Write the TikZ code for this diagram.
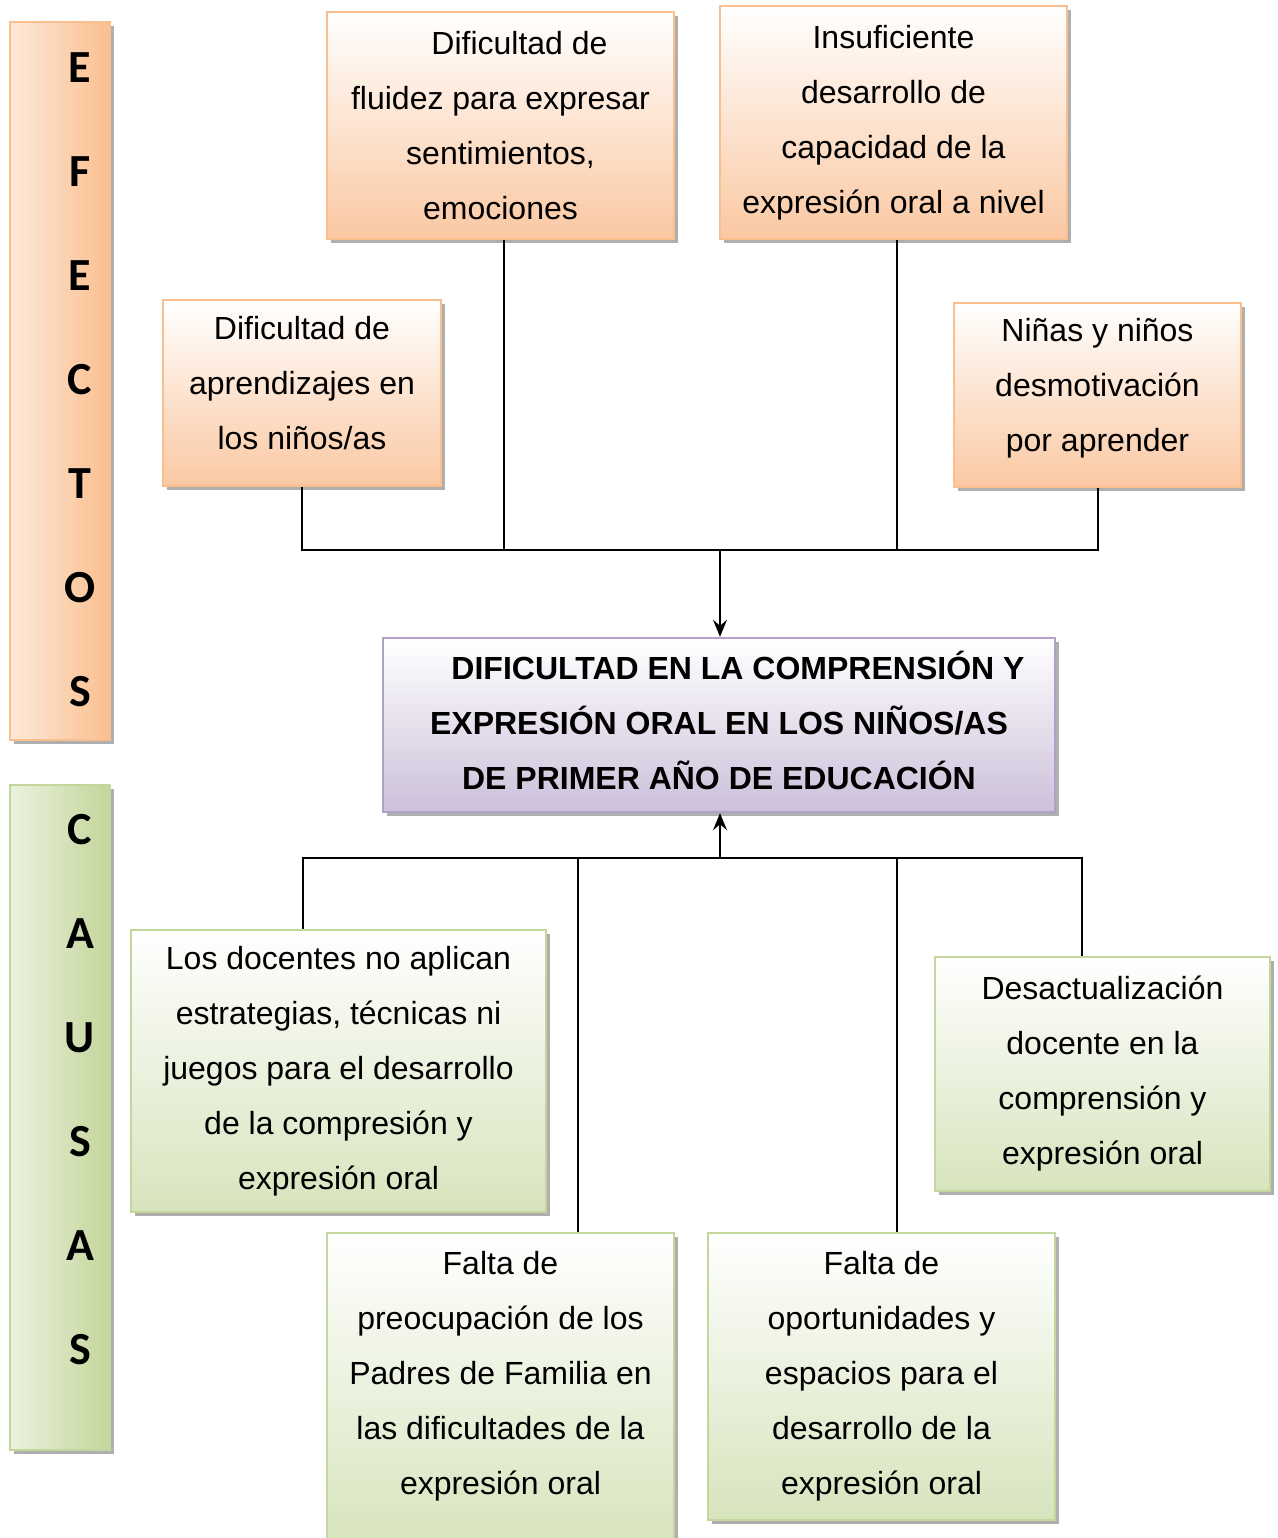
\documentclass[tikz,border=0pt]{standalone}
\usepackage{fontspec}
\setmainfont{Liberation Sans}
\newfontfamily\sidefont{Carlito}
\usetikzlibrary{arrows.meta,shadows,calc}
\definecolor{efline}{HTML}{FABF8F}
\definecolor{eflight}{HTML}{FDE9D9}
\definecolor{efbottom}{HTML}{FAC8A2}
\definecolor{caline}{HTML}{C3D69B}
\definecolor{calight}{HTML}{EBF1DE}
\definecolor{cabottom}{HTML}{D7E4BD}
\definecolor{prline}{HTML}{B2A1C7}
\definecolor{prbottom}{HTML}{CCC0DA}

\begin{document}
\begin{tikzpicture}[x=0.5pt,y=-0.5pt,
  boxtext/.style={rectangle,align=center,inner sep=0pt,line width=1.2pt,font=\fontsize{16}{27.5}\selectfont,
    drop shadow={shadow xshift=2pt,shadow yshift=-2pt,fill=black!35,opacity=0.9}},
  efbox/.style={boxtext,draw=efline,top color=white,bottom color=efbottom},
  cabox/.style={boxtext,draw=caline,top color=white,bottom color=cabottom},
  probbox/.style={boxtext,draw=prline,top color=white,bottom color=prbottom,font=\fontsize{16}{27.5}\selectfont\bfseries},
  sidebox/.style={rectangle,inner sep=0pt,line width=1.2pt,minimum width=50pt,
    drop shadow={shadow xshift=2pt,shadow yshift=-2pt,fill=black!35,opacity=0.9}},
  sideletter/.style={font=\sidefont\bfseries\fontsize{23}{23}\selectfont,inner sep=0pt},
  link/.style={line width=1pt},
  arrowlink/.style={link,-{Stealth[length=8.5pt,width=7pt,inset=3pt]}}]
\useasboundingbox (0,0) rectangle (1278,1538);

% side columns
\node[sidebox,draw=efline,left color=eflight,right color=efline,minimum height=359pt] (efectos) at (60,381) {};
\node[sidebox,draw=caline,left color=calight,right color=caline,minimum height=332.5pt] (causas) at (60,1117.5) {};
\foreach \l [count=\i from 0] in {E,F,E,C,T,O,S}
  \node[sideletter] (ef\i) at (80,{68+104*\i}) {\l};
\foreach \l [count=\i from 0] in {C,A,U,S,A,S}
  \node[sideletter] (ca\i) at (80,{830+104*\i}) {\l};

% efectos
\node[efbox,minimum width=139pt,minimum height=93pt,text depth=10pt] (e1) at (302,393)
  {Dificultad de\\aprendizajes en\\los niños/as};
\node[efbox,minimum width=173.5pt,minimum height=113.5pt] (e2) at (500.5,125.5)
  {\hspace*{19pt}Dificultad de\\fluidez para expresar\\sentimientos,\\emociones};
\node[efbox,minimum width=173.5pt,minimum height=116.5pt] (e3) at (893.5,122.5)
  {Insuficiente\\desarrollo de\\capacidad de la\\expresión oral a nivel};
\node[efbox,minimum width=143.5pt,minimum height=92pt,text depth=10pt] (e4) at (1097.5,395)
  {Niñas y niños\\desmotivación\\por aprender};

% problema
\node[probbox,minimum width=336pt,minimum height=87pt,text depth=5pt] (prob) at (719,725)
  {\hspace*{19pt}DIFICULTAD EN LA COMPRENSIÓN Y\\EXPRESIÓN ORAL EN LOS NIÑOS/AS\\DE PRIMER AÑO DE EDUCACIÓN};

% causas
\node[cabox,minimum width=207.5pt,minimum height=141pt] (c1) at (338.5,1071)
  {Los docentes no aplican\\estrategias, técnicas ni\\juegos para el desarrollo\\de la compresión y\\expresión oral};
\node[cabox,minimum width=173.5pt,minimum height=156pt,text depth=16pt] (c2) at (500.5,1389)
  {Falta de\\preocupación de los\\Padres de Familia en\\las dificultades de la\\expresión oral};
\node[cabox,minimum width=173.5pt,minimum height=143.5pt] (c3) at (881.5,1376.5)
  {Falta de\\oportunidades y\\espacios para el\\desarrollo de la\\expresión oral};
\node[cabox,minimum width=167.5pt,minimum height=117pt] (c4) at (1102.5,1074)
  {Desactualización\\docente en la\\comprensión y\\expresión oral};

% connectors
\coordinate (ejoin) at (720,550);
\coordinate (cjoin) at (720,858);
\draw[link] (e1.south) |- (ejoin) -| (e4.south);
\draw[link] ([xshift=1.75pt]e2.south) -- ([xshift=1.75pt]e2.south |- ejoin);
\draw[link] ([xshift=1.75pt]e3.south) -- ([xshift=1.75pt]e3.south |- ejoin);
\draw[arrowlink] (ejoin) -- (ejoin |- prob.north);
\draw[link] ([xshift=-17.75pt]c1.north) |- (cjoin) -| ([xshift=-10.25pt]c4.north);
\draw[link] ([xshift=38.75pt]c2.north) -- ([xshift=38.75pt]c2.north |- cjoin);
\draw[link] ([xshift=7.75pt]c3.north) -- ([xshift=7.75pt]c3.north |- cjoin);
\draw[arrowlink] (cjoin) -- (cjoin |- prob.south);
\end{tikzpicture}
\end{document}
